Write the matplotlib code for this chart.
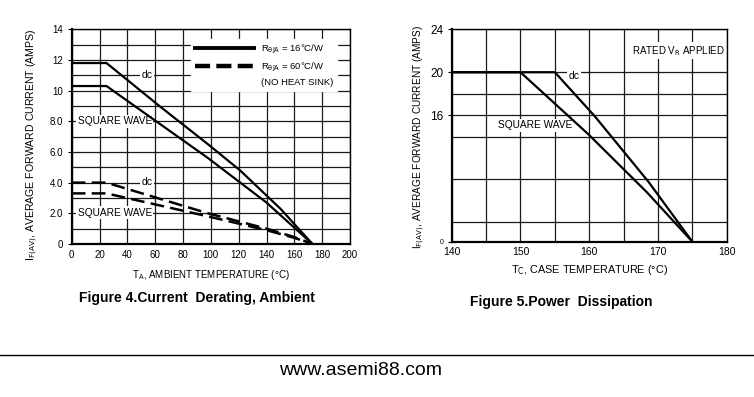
import matplotlib
matplotlib.use('Agg')
import matplotlib.pyplot as plt
from matplotlib.lines import Line2D

plt.rcParams['font.family'] = ['Liberation Sans Narrow', 'Liberation Sans', 'DejaVu Sans']
plt.rcParams['mathtext.fontset'] = 'custom'
plt.rcParams['mathtext.rm'] = 'Liberation Sans Narrow'
plt.rcParams['mathtext.it'] = 'Liberation Sans Narrow'

# Figure 4 - current derating, ambient
amb_temp_dc = [0, 25, 63, 98, 121, 150, 173]
amb_dc_16 = [11.8, 11.8, 9.0, 6.5, 4.8, 2.3, 0]
amb_temp_sq = [0, 25, 98, 140, 173]
amb_sq_16 = [10.3, 10.3, 5.6, 2.7, 0]
amb_temp_60 = [0, 25, 98, 140, 160, 173]
amb_dc_60 = [4.0, 4.0, 2.0, 1.0, 0.45, 0]
amb_sq_60 = [3.3, 3.3, 1.8, 0.9, 0.4, 0]
amb_xticks = [0, 20, 40, 60, 80, 100, 120, 140, 160, 180, 200]
amb_yticks = [0, 2, 4, 6, 8, 10, 12, 14]
amb_ylabels = ['0', '2.0', '4.0', '6.0', '8.0', '10', '12', '14']

# Figure 5 - case temperature
case_temp_dc = [140, 155, 160.8, 168.6, 175]
case_dc = [20, 20, 15.9, 9.8, 4.2]
case_temp_sq = [140, 150, 159.9, 168.4, 175]
case_sq = [20, 20, 14.2, 8.8, 4.2]
case_xticks = [140, 150, 160, 170, 180]
case_yticks = [4.2, 16, 20, 24]
case_ylabels = ['0', '16', '20', '24']
case_ygrid = [6, 10, 14, 18]

fig = plt.figure(figsize=(7.54, 3.97), dpi=100)
ax1 = fig.add_axes([0.0951, 0.3854, 0.3691, 0.5408])
ax2 = fig.add_axes([0.5991, 0.3912, 0.3647, 0.5350])

label_box = dict(fc='white', ec='none', pad=1.0)


def style_axes(ax):
    ax.set_axisbelow(True)
    ax.grid(True, which='both', color='#1a1a1a', lw=0.9)
    for side in ['top', 'right']:
        ax.spines[side].set_linewidth(1.0)
    for side in ['left', 'bottom']:
        ax.spines[side].set_linewidth(1.6)
    ax.tick_params(axis='x', length=0, pad=4)
    ax.tick_params(axis='y', which='major', length=3, width=0.8, pad=3)
    ax.tick_params(which='minor', length=0)


# ---- left chart
ax1.plot(amb_temp_dc, amb_dc_16, color='black', lw=1.6)
ax1.plot(amb_temp_sq, amb_sq_16, color='black', lw=1.6)
ax1.plot(amb_temp_60, amb_dc_60, color='black', lw=1.8, dashes=(5.5, 2.5))
ax1.plot(amb_temp_60, amb_sq_60, color='black', lw=1.8, dashes=(5.5, 2.5))
ax1.set_xlim(0, 200)
ax1.set_ylim(0, 14)
ax1.set_xticks(amb_xticks)
ax1.set_yticks(amb_yticks)
ax1.set_yticklabels(amb_ylabels)
ax1.set_yticks(range(1, 14, 2), minor=True)
style_axes(ax1)
ax1.tick_params(labelsize=7)

ax1.text(54, 11.0, 'dc', fontsize=7.5, ha='center', va='center', bbox=label_box, zorder=1.5)
ax1.text(31, 8.0, 'SQUARE WAVE', fontsize=7.3, ha='center', va='center', bbox=label_box, zorder=1.5)
ax1.text(54, 4.05, 'dc', fontsize=7.5, ha='center', va='center', bbox=label_box, zorder=1.5)
ax1.text(31, 2.05, 'SQUARE WAVE', fontsize=7.3, ha='center', va='center', bbox=label_box, zorder=1.5)

handles = [Line2D([], [], color='black', lw=2.8),
           Line2D([], [], color='black', lw=3.2, dashes=(3.4, 1.4)),
           Line2D([], [], color='none')]
leg = ax1.legend(handles, [r'R$_{\mathrm{θJA}}$ = 16°C/W', r'R$_{\mathrm{θJA}}$ = 60°C/W', '(NO HEAT SINK)'],
                 loc='upper right', bbox_to_anchor=(0.972, 0.975), fontsize=6.8,
                 handlelength=6.2, handletextpad=0.8, labelspacing=0.45,
                 borderpad=0.4, frameon=True, fancybox=False, framealpha=1)
leg.get_frame().set_edgecolor('white')
leg.get_frame().set_facecolor('white')

ax1.text(0.5, -0.145, r'T$_{\mathrm{A}}$, AMBIENT TEMPERATURE (°C)', transform=ax1.transAxes,
         fontsize=7, ha='center', va='center')
ax1.text(-0.143, 0.46, r'I$_{\mathrm{F(AV)}}$, AVERAGE FORWARD CURRENT (AMPS)', transform=ax1.transAxes,
         fontsize=7.6, ha='center', va='center', rotation=90)

# ---- right chart
ax2.plot(case_temp_dc, case_dc, color='black', lw=1.6)
ax2.plot(case_temp_sq, case_sq, color='black', lw=1.6)
ax2.set_xlim(140, 180)
ax2.set_ylim(4.2, 24)
ax2.set_xticks(case_xticks)
ax2.set_xticks([145, 155, 165, 175], minor=True)
ax2.set_yticks(case_yticks)
ax2.set_yticklabels(case_ylabels)
ax2.set_yticks(case_ygrid, minor=True)
style_axes(ax2)
ax2.tick_params(axis='x', labelsize=7.5)
ax2.tick_params(axis='y', labelsize=8.5, labelfontfamily='Liberation Sans')
ax2.get_yticklabels()[0].set_fontsize(5)

ax2.text(157.8, 19.6, 'dc', fontsize=7.5, ha='center', va='center', bbox=label_box, zorder=1.5)
ax2.text(152.1, 15.05, 'SQUARE WAVE', fontsize=7.3, ha='center', va='center', bbox=label_box, zorder=1.5)
ax2.text(172.9, 22.0, r'RATED V$_{\mathrm{R}}$ APPLIED', fontsize=7, ha='center', va='center',
         bbox=label_box, zorder=1.5)

ax2.text(0.5, -0.133, r'T$_{\mathrm{C}}$, CASE TEMPERATURE (°C)', transform=ax2.transAxes,
         fontsize=7.8, ha='center', va='center')
ax2.text(-0.119, 0.495, r'I$_{\mathrm{F(AV)}}$, AVERAGE FORWARD CURRENT (AMPS)', transform=ax2.transAxes,
         fontsize=7.3, ha='center', va='center', rotation=90)

# ---- captions and footer
fig.text(0.261, 0.249, 'Figure 4.Current  Derating, Ambient', fontsize=10, fontweight='bold',
         family='Liberation Sans', ha='center', va='center')
fig.text(0.744, 0.240, 'Figure 5.Power  Dissipation', fontsize=10, fontweight='bold',
         family='Liberation Sans', ha='center', va='center')
fig.add_artist(Line2D([0.0, 1.0], [0.106, 0.106], color='black', lw=1.0, transform=fig.transFigure))
fig.text(0.4775, 0.068, 'www.asemi88.com', fontsize=14, family='Liberation Sans',
         ha='center', va='center')

fig.savefig('out.png', dpi=100)
